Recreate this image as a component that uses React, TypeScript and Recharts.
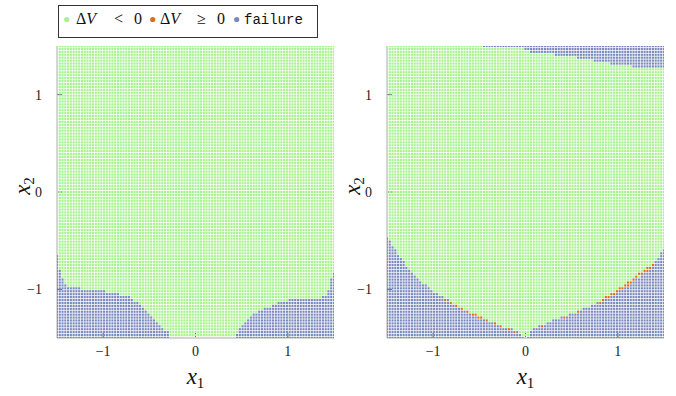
import React from 'react';
import { ScatterChart, Scatter, XAxis, YAxis } from 'recharts';

// sampling grid: x1, x2 in [-1.5, 1.5], 101 x 101 points
const GRID_START = -1.5;
const GRID_STEP = 0.03;
const GRID_COUNT = 101;

const axisTicks = [-1, 0, 1];

const GREEN = '#a6f28c';
const ORANGE = '#dc6e14';
const FAILURE = '#7b8abd';
const SERIF = "'Liberation Serif', 'DejaVu Serif', serif";

// left panel: failure region lies below these curves
const leftFailWestX = [-1.5, -1.47, -1.44, -1.41, -1.38, -1.35, -1.24, -1.23, -0.97, -0.96, -0.85, -0.83, -0.72, -0.67, -0.61, -0.56, -0.5, -0.45, -0.39, -0.34, -0.3, -0.29];
const leftFailWestY = [-0.67, -0.8, -0.91, -0.96, -0.99, -0.98, -0.98, -1.01, -1.01, -1.04, -1.04, -1.07, -1.09, -1.13, -1.16, -1.21, -1.26, -1.31, -1.37, -1.42, -1.45, -1.5];
const leftFailEastX = [0.44, 0.49, 0.56, 0.63, 0.69, 0.74, 0.815, 0.89, 1.0, 1.18, 1.36, 1.43, 1.46, 1.5];
const leftFailEastY = [-1.5, -1.4, -1.33, -1.275, -1.24, -1.213, -1.186, -1.155, -1.128, -1.1, -1.1, -1.07, -0.94, -0.83];

// right panel: failure below these curves
const rightFailWestX = [-1.5, -1.46, -1.42, -1.39, -1.33, -1.28, -1.23, -1.17, -1.12, -1.06, -0.99, -0.92, -0.85, -0.77, -0.67, -0.56, -0.45, -0.34, -0.23, -0.12, -0.05, -0.03];
const rightFailWestY = [-0.47, -0.54, -0.6, -0.64, -0.72, -0.785, -0.846, -0.89, -0.94, -0.99, -1.04, -1.077, -1.12, -1.16, -1.213, -1.27, -1.316, -1.36, -1.4, -1.43, -1.46, -1.5];
const rightFailEastX = [0.03, 0.07, 0.12, 0.21, 0.28, 0.37, 0.46, 0.54, 0.61, 0.68, 0.75, 0.83, 0.9, 0.97, 1.04, 1.11, 1.19, 1.26, 1.33, 1.385, 1.44, 1.5];
const rightFailEastY = [-1.5, -1.43, -1.395, -1.37, -1.34, -1.306, -1.275, -1.247, -1.22, -1.19, -1.155, -1.12, -1.077, -1.04, -1.008, -0.963, -0.92, -0.87, -0.82, -0.75, -0.68, -0.6];

// right panel: failure at the top, staircase (step start x1 -> lowest failing x2)
const rightTopStepX = [-0.46, 0.0, 0.06, 0.33, 0.57, 0.75, 0.93, 1.15];
const rightTopStepY = [1.5, 1.47, 1.44, 1.41, 1.38, 1.35, 1.32, 1.29];

// right panel: points with dV >= 0
const orangeX1 = [-0.87, -0.81, -0.75, -0.69, -0.63, -0.57, -0.54, -0.51, -0.48, -0.42, -0.33, -0.27, -0.18, -0.12,
  0.18, 0.42, 0.57, 0.81, 0.84, 0.87, 0.9, 0.93, 0.96, 0.99, 1.02, 1.05, 1.08, 1.11, 1.11, 1.14, 1.17, 1.2, 1.23, 1.26, 1.29, 1.32, 1.32, 1.35, 1.38];
const orangeX2 = [-1.11, -1.14, -1.17, -1.2, -1.23, -1.26, -1.26, -1.29, -1.29, -1.32, -1.35, -1.38, -1.41, -1.44,
  -1.38, -1.29, -1.23, -1.14, -1.11, -1.08, -1.08, -1.05, -1.05, -1.02, -0.99, -0.99, -0.96, -0.96, -0.93, -0.93, -0.9, -0.87, -0.84, -0.84, -0.81, -0.81, -0.78, -0.78, -0.75];

type Pt = { x1: number; x2: number };

const gridValues = Array.from({ length: GRID_COUNT }, (_, i) => Math.round((GRID_START + i * GRID_STEP) * 100) / 100);

const curveAt = (xs: number[], ys: number[], x: number): number | null => {
  if (x < xs[0] - 1e-9 || x > xs[xs.length - 1] + 1e-9) return null;
  for (let i = 1; i < xs.length; i++) {
    if (x <= xs[i] + 1e-9) {
      const t = (x - xs[i - 1]) / (xs[i] - xs[i - 1]);
      return ys[i - 1] + t * (ys[i] - ys[i - 1]);
    }
  }
  return ys[ys.length - 1];
};

const below = (xs: number[], ys: number[], x: number, y: number) => {
  const b = curveAt(xs, ys, x);
  return b !== null && y <= b + GRID_STEP / 2;
};

const aboveSteps = (x: number, y: number) => {
  let lim: number | null = null;
  rightTopStepX.forEach((sx, i) => {
    if (x >= sx - 1e-9) lim = rightTopStepY[i];
  });
  return lim !== null && y >= (lim as number) - 0.005;
};

const key = (x: number, y: number) => `${x.toFixed(2)},${y.toFixed(2)}`;

const buildPanel = (isFailure: (x: number, y: number) => boolean, skip: Set<string>) => {
  const green: Pt[] = [];
  const fail: Pt[] = [];
  gridValues.forEach((x) => {
    gridValues.forEach((y) => {
      if (skip.has(key(x, y))) return;
      if (isFailure(x, y)) fail.push({ x1: x, x2: y });
      else green.push({ x1: x, x2: y });
    });
  });
  return { green, fail };
};

const leftPanel = buildPanel(
  (x, y) => below(leftFailWestX, leftFailWestY, x, y) || below(leftFailEastX, leftFailEastY, x, y),
  new Set()
);

const orangePts: Pt[] = orangeX1.map((x, i) => ({ x1: x, x2: orangeX2[i] }));
const rightPanel = buildPanel(
  (x, y) => below(rightFailWestX, rightFailWestY, x, y) || below(rightFailEastX, rightFailEastY, x, y) || aboveSteps(x, y),
  new Set(orangePts.map((p) => key(p.x1, p.x2)))
);

const cell = (color: string) => (props: any) => (
  <rect x={props.cx - 1.05} y={props.cy - 1.1} width={2.1} height={2.2} fill={color} />
);

const fmt = (v: number) => (v < 0 ? `\u2212${-v}` : `${v}`);
const tickFont = { fontFamily: SERIF, fontSize: 14, fill: '#222' };
const frame = { stroke: '#9a9a9a', strokeWidth: 0.8 };
const dom: [number, number] = [-1.5, 1.5];

const XLabel = ({ viewBox }: any) => (
  <text x={viewBox.x + viewBox.width / 2} y={viewBox.y + 46} textAnchor="middle" fontFamily={SERIF} fill="#111">
    <tspan fontSize={23} fontStyle="italic">x</tspan>
    <tspan fontSize={15} dy={4}>1</tspan>
  </text>
);

const YLabel = ({ viewBox }: any) => (
  <text
    transform={`translate(${viewBox.x + 30}, ${viewBox.y + viewBox.height / 2 - 6}) rotate(-90)`}
    textAnchor="middle"
    fontFamily={SERIF}
    fill="#111"
  >
    <tspan fontSize={23} fontStyle="italic">x</tspan>
    <tspan fontSize={15} dy={4}>2</tspan>
  </text>
);

interface PanelProps {
  left: number;
  width: number;
  marginRight: number;
  data: { green: Pt[]; fail: Pt[] };
  orange?: Pt[];
}

const Panel = ({ left, width, marginRight, data, orange }: PanelProps) => (
  <div style={{ position: 'absolute', left, top: 0 }}>
    <ScatterChart width={width} height={396} margin={{ top: 46, right: marginRight, bottom: 0, left: 0 }}>
      <Scatter data={data.green} dataKey="x2" fill={GREEN} shape={cell(GREEN)} isAnimationActive={false} />
      <Scatter data={data.fail} dataKey="x2" fill={FAILURE} shape={cell(FAILURE)} isAnimationActive={false} />
      {orange && <Scatter data={orange} dataKey="x2" fill={ORANGE} shape={cell(ORANGE)} isAnimationActive={false} />}
      <XAxis dataKey="x1" type="number" domain={dom} ticks={axisTicks} allowDataOverflow height={58}
        tickFormatter={fmt} tick={tickFont} tickSize={-5} tickMargin={13} axisLine={frame} tickLine={{ stroke: '#555' }}
        label={<XLabel />} />
      <XAxis xAxisId="top" orientation="top" type="number" domain={dom} ticks={axisTicks} allowDataOverflow height={0}
        tick={false} tickSize={-5} axisLine={frame} tickLine={{ stroke: '#555' }} />
      <YAxis dataKey="x2" type="number" domain={dom} ticks={axisTicks} allowDataOverflow width={57}
        tickFormatter={fmt} tick={tickFont} tickSize={-5} tickMargin={20} axisLine={frame} tickLine={{ stroke: '#555' }}
        label={<YLabel />} />
      <YAxis yAxisId="right" orientation="right" type="number" domain={dom} ticks={axisTicks} allowDataOverflow width={0}
        tick={false} tickSize={-5} axisLine={frame} tickLine={{ stroke: '#555' }} />
    </ScatterChart>
  </div>
);

const LegendBox = () => (
  <svg width={676} height={45} style={{ position: 'absolute', left: 0, top: 0 }}>
    <rect x={58.5} y={5.5} width={259} height={32} fill="#fff" stroke="#333" strokeWidth={1} />
    <circle cx={66.7} cy={19.5} r={2.6} fill={GREEN} />
    <text y={24} fontFamily={SERIF} fontSize={16} fill="#111">
      <tspan x={76}>Δ</tspan><tspan fontStyle="italic">V</tspan>
      <tspan x={114}>&lt;</tspan>
      <tspan x={134}>0</tspan>
    </text>
    <circle cx={152.7} cy={19.5} r={2.6} fill={ORANGE} />
    <text y={24} fontFamily={SERIF} fontSize={16} fill="#111">
      <tspan x={160}>Δ</tspan><tspan fontStyle="italic">V</tspan>
      <tspan x={197}>≥</tspan>
      <tspan x={217}>0</tspan>
    </text>
    <circle cx={236.7} cy={19.5} r={2.6} fill={FAILURE} />
    <text x={244} y={24} fontFamily="'Liberation Mono', 'DejaVu Sans Mono', monospace" fontSize={14} fill="#111">failure</text>
  </svg>
);

export default function App() {
  return (
    <div style={{ position: 'absolute', left: 0, top: 0, width: 676, height: 396, background: '#fff' }}>
      <Panel left={0} width={340} marginRight={6} data={leftPanel} />
      <Panel left={330} width={346} marginRight={12} data={rightPanel} orange={orangePts} />
      <LegendBox />
    </div>
  );
}
